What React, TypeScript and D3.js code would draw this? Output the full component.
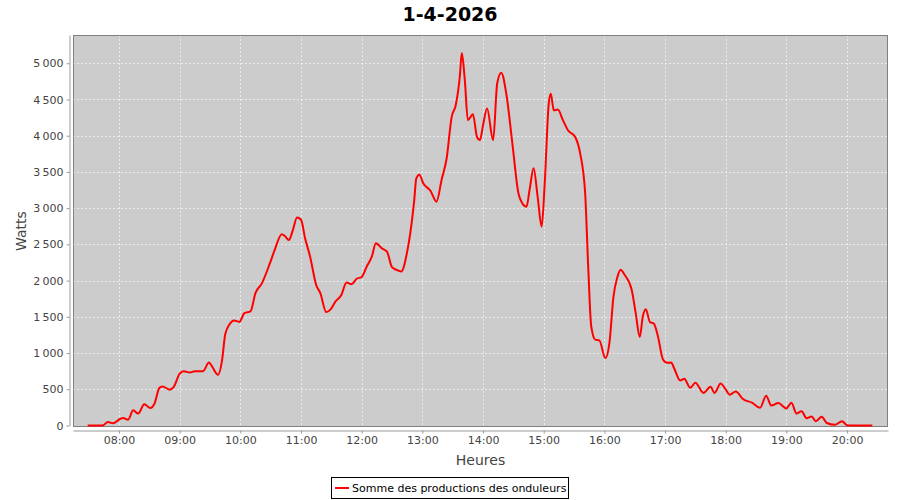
import React, { useEffect, useRef } from "react";
import * as d3 from "d3";

const chartTitle = "1-4-2026";
const xAxisLabel = "Heures";
const yAxisLabel = "Watts";
const seriesName = "Somme des productions des onduleurs";

const hourTicks = ["08:00", "09:00", "10:00", "11:00", "12:00", "13:00", "14:00", "15:00", "16:00", "17:00", "18:00", "19:00", "20:00"];
const wattTicks = [0, 500, 1000, 1500, 2000, 2500, 3000, 3500, 4000, 4500, 5000];

const times = [
  "07:29", "07:44", "07:49", "07:54", "08:01", "08:04", "08:09", "08:14", "08:19", "08:25",
  "08:31", "08:35", "08:40", "08:43", "08:50", "08:54", "09:00", "09:04", "09:10", "09:15",
  "09:23", "09:29", "09:32", "09:38", "09:42", "09:45", "09:49", "09:54", "09:59", "10:04",
  "10:10", "10:15", "10:21", "10:29", "10:34", "10:41", "10:44", "10:48", "10:52", "10:56",
  "11:00", "11:04", "11:09", "11:15", "11:19", "11:25", "11:29", "11:34", "11:40", "11:45",
  "11:50", "11:55", "12:00", "12:05", "12:10", "12:14", "12:20", "12:25", "12:30", "12:34",
  "12:39", "12:45", "12:48", "12:52", "12:54", "12:57", "13:01", "13:08", "13:14", "13:19",
  "13:24", "13:29", "13:33", "13:37", "13:39", "13:42", "13:45", "13:50", "13:54", "13:57",
  "14:00", "14:04", "14:10", "14:14", "14:18", "14:23", "14:29", "14:35", "14:39", "14:43",
  "14:46", "14:50", "14:54", "14:58", "15:01", "15:05", "15:07", "15:10", "15:14", "15:19",
  "15:24", "15:31", "15:36", "15:41", "15:44", "15:47", "15:51", "15:55", "16:01", "16:05",
  "16:09", "16:13", "16:16", "16:20", "16:27", "16:31", "16:35", "16:38", "16:41", "16:45",
  "16:49", "16:53", "16:58", "17:02", "17:06", "17:09", "17:15", "17:19", "17:25", "17:30",
  "17:38", "17:45", "17:49", "17:55", "17:59", "18:04", "18:10", "18:17", "18:26", "18:34",
  "18:40", "18:45", "18:52", "19:00", "19:05", "19:10", "19:15", "19:20", "19:25", "19:29",
  "19:35", "19:40", "19:48", "19:55", "20:00", "20:05", "20:25"
];

const watts = [
  0, 0, 50, 30, 90, 105, 80, 210, 165, 295,
  240, 300, 520, 540, 495, 530, 715, 750, 730, 750,
  750, 870, 815, 700, 910, 1255, 1390, 1450, 1430, 1550,
  1575, 1830, 1955, 2230, 2425, 2640, 2615, 2560, 2700, 2870,
  2840, 2585, 2330, 1940, 1830, 1565, 1600, 1710, 1805, 1975,
  1950, 2025, 2050, 2195, 2330, 2515, 2445, 2400, 2185, 2150,
  2125, 2400, 2650, 3115, 3410, 3460, 3340, 3240, 3090, 3390,
  3685, 4260, 4420, 4810, 5140, 4765, 4215, 4295, 3985, 3940,
  4145, 4375, 3940, 4720, 4870, 4580, 3895, 3205, 3065, 3020,
  3250, 3550, 3160, 2745, 3340, 4445, 4580, 4350, 4360, 4215,
  4075, 3985, 3760, 3205, 2195, 1370, 1185, 1175, 930, 1140,
  1780, 2055, 2150, 2080, 1875, 1550, 1220, 1505, 1605, 1430,
  1405, 1230, 910, 865, 870, 790, 620, 645, 520, 590,
  450, 535, 450, 580, 520, 425, 470, 365, 315, 245,
  410, 275, 310, 235, 315, 165, 195, 100, 125, 60,
  120, 35, 10, 58, 5, 0, 0
];

const toMin = (s: string) => {
  const [h, m] = s.split(":").map(Number);
  return h * 60 + m;
};

const fr = d3.formatLocale({ decimal: ",", thousands: "\u202f", grouping: [3], currency: ["", " €"] });
const fmtY = fr.format(",d");

export default function App() {
  const ref = useRef<SVGSVGElement | null>(null);

  useEffect(() => {
    const svg = d3.select(ref.current);
    svg.selectAll("*").remove();

    const L = 73, R = 888, T = 35, B = 426.5;
    const x = d3.scaleLinear().domain([434.5, 1240.5]).range([L, R]);
    const y = d3.scaleLinear().domain([0, 5390]).range([B - 1, T]);
    const font = "'DejaVu Sans', sans-serif";

    svg.append("rect").attr("width", 900).attr("height", 500).attr("fill", "#ffffff");

    // title
    svg.append("text").attr("x", 450).attr("y", 21).attr("text-anchor", "middle")
      .attr("font-family", font).attr("font-weight", "bold").attr("font-size", 19)
      .attr("fill", "#000").text(chartTitle);

    // plot background
    svg.append("rect").attr("x", L).attr("y", T).attr("width", R - L).attr("height", B - T)
      .attr("fill", "#cccccc");

    const hourVals = hourTicks.map(toMin);
    const grid = svg.append("g").attr("stroke", "#f2f2f2").attr("stroke-width", 0.8)
      .attr("stroke-dasharray", "2,2");
    hourVals.forEach(v => {
      grid.append("line").attr("x1", Math.round(x(v)) + 0.5).attr("x2", Math.round(x(v)) + 0.5)
        .attr("y1", T).attr("y2", B);
    });
    wattTicks.forEach(v => {
      if (v === 0) return;
      grid.append("line").attr("y1", Math.round(y(v)) + 0.5).attr("y2", Math.round(y(v)) + 0.5)
        .attr("x1", L).attr("x2", R);
    });

    // plot frame
    svg.append("rect").attr("x", L + 0.5).attr("y", T + 0.5).attr("width", R - L - 1).attr("height", B - T - 0.5)
      .attr("fill", "none").attr("stroke", "#808080").attr("stroke-width", 1);

    // series
    const data = times.map((t, i) => ({ t: toMin(t), w: watts[i] }));
    const line = d3.line<{ t: number; w: number }>()
      .x(d => x(d.t)).y(d => y(d.w)).curve(d3.curveMonotoneX);
    svg.append("path").datum(data).attr("d", line).attr("fill", "none")
      .attr("stroke", "#ff0000").attr("stroke-width", 2).attr("stroke-linejoin", "round");

    // y axis
    const yAxis = d3.axisLeft(y).tickValues(wattTicks).tickFormat(d => fmtY(d as number))
      .tickSizeInner(3).tickSizeOuter(0).tickPadding(3);
    const gy = svg.append("g").attr("transform", "translate(69.5,0)").call(yAxis);
    gy.select(".domain").attr("stroke", "#999");
    gy.selectAll(".tick line").attr("stroke", "#999");
    gy.selectAll(".tick text").attr("font-family", font).attr("font-size", 11).attr("fill", "#444");

    // x axis
    const xAxis = d3.axisBottom(x).tickValues(hourVals)
      .tickFormat((d, i) => hourTicks[i]).tickSizeInner(3).tickSizeOuter(0).tickPadding(3);
    const gx = svg.append("g").attr("transform", "translate(0,430.5)").call(xAxis);
    gx.select(".domain").attr("stroke", "#999");
    gx.selectAll(".tick line").attr("stroke", "#999");
    gx.selectAll(".tick text").attr("font-family", font).attr("font-size", 11).attr("fill", "#444");

    // axis labels
    svg.append("text").attr("x", 480.5).attr("y", 465).attr("text-anchor", "middle")
      .attr("font-family", font).attr("font-size", 14).attr("fill", "#444").text(xAxisLabel);
    svg.append("text").attr("transform", "translate(26,231) rotate(-90)").attr("text-anchor", "middle")
      .attr("font-family", font).attr("font-size", 14).attr("fill", "#444").text(yAxisLabel);

    // legend
    svg.append("rect").attr("x", 331.5).attr("y", 477.5).attr("width", 237).attr("height", 21)
      .attr("fill", "#fff").attr("stroke", "#000").attr("stroke-width", 1);
    svg.append("line").attr("x1", 335).attr("x2", 349).attr("y1", 488).attr("y2", 488)
      .attr("stroke", "#ff0000").attr("stroke-width", 2);
    svg.append("text").attr("x", 352).attr("y", 492).attr("font-family", font)
      .attr("font-size", 11).attr("fill", "#000").text(seriesName);
  }, []);

  return (
    <svg ref={ref} width={900} height={500}
      style={{ position: "absolute", left: 0, top: 0, display: "block" }} />
  );
}
